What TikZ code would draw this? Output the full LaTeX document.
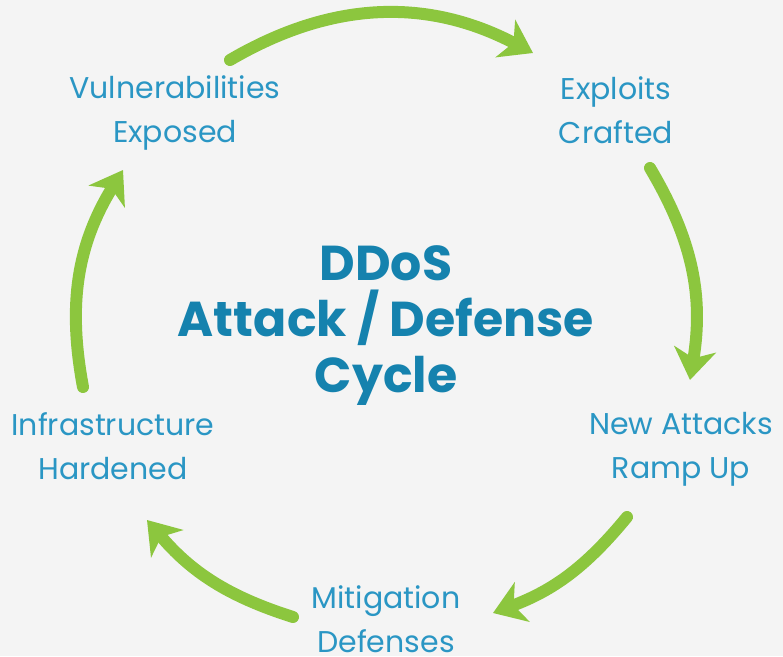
\documentclass[tikz,border=0pt]{standalone}
\usepackage{fontspec}
\setmainfont{Poppins}
\usetikzlibrary{arrows.meta}
\definecolor{bg}{HTML}{F4F4F4}
\definecolor{cgreen}{HTML}{8CC63E}
\definecolor{lblue}{HTML}{2A96C4}
\definecolor{tblue}{HTML}{1582AE}
\tikzset{
  lbl/.style={text=lblue, align=center, font=\fontsize{30}{44}\selectfont, inner sep=0pt},
  ttl/.style={text=tblue, align=center, font=\bfseries\fontsize{49}{56}\selectfont, inner sep=0pt},
  cyc/.style={draw=cgreen, line width=12pt, line cap=round,
    -{Stealth[length=31pt, width=42pt, inset=9pt]}}
}
\begin{document}
\begin{tikzpicture}[x=1pt,y=1pt]
\path[fill=bg, use as bounding box] (0,0) rectangle (783,-656);
\node[lbl] (vul) at (175,-113) {Vulnerabilities\\Exposed};
\node[lbl] (exp) at (616,-110) {Exploits\\Crafted};
\node[lbl] (new) at (681,-449) {New Attacks\\Ramp Up};
\node[lbl] (mit) at (386,-619) {Mitigation\\Defenses};
\node[lbl] (inf) at (113,-446) {Infrastructure\\Hardened};
\node[ttl] (title) at (386,-326) {DDoS\\Attack / Defense\\Cycle};
\coordinate (a1s) at (230,-60);
\coordinate (a1e) at (533,-53);
\coordinate (a2s) at (650,-168);
\coordinate (a2e) at (690,-380);
\coordinate (a3s) at (627,-517);
\coordinate (a3e) at (493,-613);
\coordinate (a4s) at (293,-617);
\coordinate (a4e) at (147,-520);
\coordinate (a5s) at (83,-387);
\coordinate (a5e) at (123,-170);
\draw[cyc] (a1s) to[bend left=29] (a1e);
\draw[cyc] (a2s) to[bend left=20] (a2e);
\draw[cyc] (a3s) to[bend left=15] (a3e);
\draw[cyc] (a4s) to[bend left=16] (a4e);
\draw[cyc] (a5s) to[bend left=21] (a5e);
\end{tikzpicture}
\end{document}
